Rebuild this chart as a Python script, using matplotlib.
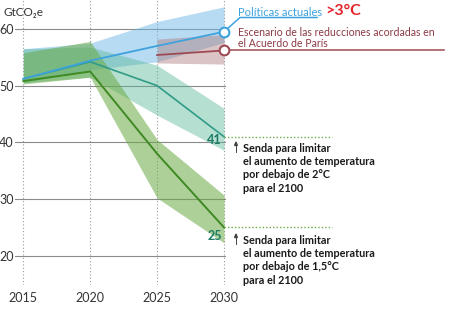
import matplotlib
matplotlib.use("Agg")
import matplotlib.pyplot as plt

# ----------------------------------------
# DATA (GtCO2e)
# ----------------------------------------
years = [2015, 2020, 2025, 2030]

actuales = [51.2, 54.4, 57.0, 59.5]
actuales_lo = [50.5, 52.8, 54.2, 57.6]
actuales_hi = [56.5, 57.5, 61.3, 63.9]

paris_years = [2025, 2030]
paris = [55.4, 56.2]
paris_lo = [54.0, 53.8]
paris_hi = [58.2, 59.0]

dos = [51.2, 54.2, 50.0, 41.0]
dos_lo = [50.5, 51.5, 44.8, 38.6]
dos_hi = [56.5, 56.8, 53.6, 46.0]

uno5 = [50.8, 52.5, 38.0, 25.0]
uno5_lo = [50.3, 51.5, 30.2, 22.3]
uno5_hi = [55.8, 57.8, 40.5, 30.7]

yticks = [20, 30, 40, 50, 60]

# ----------------------------------------
# STYLE
# ----------------------------------------
FONT = ["Lato", "DejaVu Sans"]
plt.rcParams["font.family"] = FONT

W, H = 449, 323
fig = plt.figure(figsize=(W / 100, H / 100), dpi=100)
ax = fig.add_axes([15 / W, 1 - 285 / H, 211 / W, 285 / H])
ax.set_xlim(2014.38, 2030.15)
ax.set_ylim(14.85, 65.1)


def px(x, y):
    # figure pixel -> data coords (for annotations outside the plot)
    inv = ax.transData.inverted()
    return inv.transform((x, H - y))


# grid
for v in yticks:
    ax.axhline(v, color="#8a8a8a", lw=0.8, zorder=1)
for yr in years:
    ax.axvline(yr, color="#9a9a9a", lw=0.8, ls=(0, (1, 2)), zorder=1)

# bands
ax.fill_between(years, actuales_lo, actuales_hi, color="#6fb9e6", alpha=0.5, lw=0, zorder=2)
ax.fill_between(years, dos_lo, dos_hi, color="#5cb89a", alpha=0.45, lw=0, zorder=2)
ax.fill_between(years, uno5_lo, uno5_hi, color="#6aab45", alpha=0.55, lw=0, zorder=2)
ax.fill_between(paris_years, paris_lo, paris_hi, color="#b07c80", alpha=0.45, lw=0, zorder=2)

# lines
ax.plot(years, dos, color="#2f9c86", lw=1.2, zorder=3)
ax.plot(years, uno5, color="#3f8a22", lw=1.4, zorder=3)
ax.plot(years, actuales, color="#3ea2dc", lw=1.3, zorder=4)
ax.plot(paris_years, paris, color="#9e4a55", lw=1.3, zorder=4)

# leaders to the labels on the right
x1, y1 = px(240, 17.5)
x2, _ = px(317, 17.5)
ax.plot([years[-1], x1, x2], [actuales[-1], y1, y1], color="#3ea2dc", lw=1.1,
        clip_on=False, zorder=4)
x3, _ = px(444, 0)
ax.plot([years[-1], x3], [paris[-1], paris[-1]], color="#9e4a55", lw=1.1,
        clip_on=False, zorder=4)
ax.plot(years[-1], actuales[-1], "o", ms=7, mfc="white", mec="#3ea2dc", mew=1.5,
        clip_on=False, zorder=5)
ax.plot(years[-1], paris[-1], "o", ms=7, mfc="white", mec="#9e4a55", mew=1.5,
        clip_on=False, zorder=5)

x4, _ = px(332, 0)
ax.plot([years[-1], x4], [dos[-1], dos[-1]], color="#6aab45", lw=1.0, ls=(0, (1, 1.5)),
        clip_on=False, zorder=3)
ax.plot([years[-1], x4], [uno5[-1], uno5[-1]], color="#6aab45", lw=1.0, ls=(0, (1, 1.5)),
        clip_on=False, zorder=3)

ax.annotate(f"{dos[-1]:.0f}", xy=(years[-1], dos[-1]), xytext=(-1.5, -2.5),
            textcoords="offset points", ha="right", va="center",
            fontsize=9, fontweight="bold", color="#1c7a63", zorder=6)
ax.annotate(f"{uno5[-1]:.0f}", xy=(years[-1], uno5[-1]), xytext=(-1.5, -6.5),
            textcoords="offset points", ha="right", va="center",
            fontsize=9, fontweight="bold", color="#1c7a63", zorder=6)

# axes styling
ax.set_xticks(years)
ax.set_xticklabels([str(y) for y in years])
ax.set_yticks(yticks)
ax.set_yticklabels([str(v) for v in yticks])
ax.tick_params(length=0, labelsize=9, labelcolor="#333333")
ax.tick_params(axis="x", pad=5)
ax.tick_params(axis="y", pad=1)
for s in ax.spines.values():
    s.set_visible(False)
ax.patch.set_visible(False)

# texts
fig.text(3 / W, 1 - 12.5 / H, "GtCO\u2082e", fontsize=8.5, color="#333333",
         va="center", ha="left")
fig.text(238 / W, 1 - 12 / H, "Políticas actuales", fontsize=8.0, color="#3ea2dc",
         va="center", ha="left")
fig.text(325 / W, 1 - 11 / H, ">3°C", fontsize=11.5, color="#e3262b",
         fontweight="bold", va="center", ha="left")
fig.text(238 / W, 1 - 38 / H, "Escenario de las reducciones acordadas en\nel Acuerdo de París",
         fontsize=7.6, color="#8b3a44", va="center", ha="left", linespacing=1.1)

senda = "Senda para limitar\nel aumento de temperatura\npor debajo de {}°C\npara el 2100"
fig.text(243 / W, 1 - 143 / H, senda.format("2"), fontsize=7.8, fontweight="bold",
         color="#1a1a1a", va="top", ha="left", linespacing=1.25)
fig.text(243 / W, 1 - 235 / H, senda.format("1,5"), fontsize=7.8, fontweight="bold",
         color="#1a1a1a", va="top", ha="left", linespacing=1.25)

for y0 in (152, 244):
    fig.patches.append(plt.Polygon([[236 / W, 1 - (y0 - 10) / H],
                                    [234.6 / W, 1 - (y0 - 6.5) / H],
                                    [237.4 / W, 1 - (y0 - 6.5) / H]],
                                   closed=True, color="#444444",
                                   transform=fig.transFigure, figure=fig))
    fig.lines.append(plt.Line2D([236 / W, 236 / W], [1 - y0 / H, 1 - (y0 - 7) / H],
                                color="#444444", lw=0.7, transform=fig.transFigure,
                                figure=fig))

fig.savefig("out.png", dpi=100)
